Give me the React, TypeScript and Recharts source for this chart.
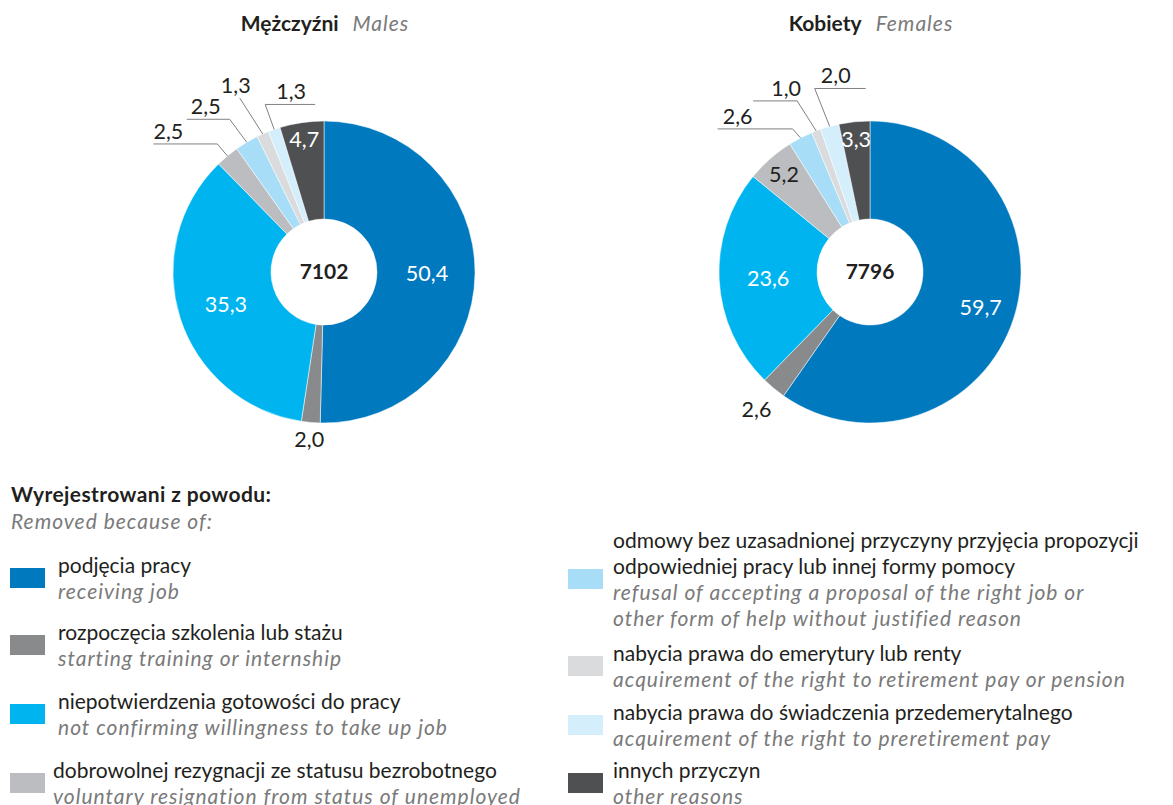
import React from 'react';
import { PieChart, Pie, Cell } from 'recharts';

const categoriesPl = [
  'podjęcia pracy',
  'rozpoczęcia szkolenia lub stażu',
  'niepotwierdzenia gotowości do pracy',
  'dobrowolnej rezygnacji ze statusu bezrobotnego',
  'odmowy bez uzasadnionej przyczyny przyjęcia propozycji odpowiedniej pracy lub innej formy pomocy',
  'nabycia prawa do emerytury lub renty',
  'nabycia prawa do świadczenia przedemerytalnego',
  'innych przyczyn',
];
const categoriesEn = [
  'receiving job',
  'starting training or internship',
  'not confirming willingness to take up job',
  'voluntary resignation from status of unemployed',
  'refusal of accepting a proposal of the right job or other form of help without justified reason',
  'acquirement of the right to retirement pay or pension',
  'acquirement of the right to preretirement pay',
  'other reasons',
];
const malesValues = [50.4, 2.0, 35.3, 2.5, 2.5, 1.3, 1.3, 4.7];
const femalesValues = [59.7, 2.6, 23.6, 5.2, 2.6, 1.0, 2.0, 3.3];
const malesTotal = 7102;
const femalesTotal = 7796;

const COLORS = ['#0079bf', '#898a8c', '#00b5ef', '#bcbdc0', '#a7ddf7', '#dadbdc', '#d4eefb', '#4f5052'];
const FONT = 'Lato, "Open Sans", sans-serif';
const TEXT = '#231f20';
const GREY_TEXT = '#7a7a7a';
const ITALIC = { fontStyle: 'italic' as const, color: GREY_TEXT, letterSpacing: 1 };

// label placement per slice (in = inside the ring, free = outside no line, lead = leader line)
type Place =
  | { kind: 'in'; r: number; dark?: boolean }
  | { kind: 'free'; r: number }
  | { kind: 'lead'; ex: number; ey: number; hx: number; lx: number };

const malesPlace: Place[] = [
  { kind: 'in', r: 103 },
  { kind: 'free', r: 168 },
  { kind: 'in', r: 103 },
  { kind: 'lead', ex: -10, ey: -12, hx: -64, lx: -49 },
  { kind: 'lead', ex: -17, ey: -23, hx: -43, lx: -24 },
  { kind: 'lead', ex: -23, ey: -36, hx: 0, lx: -4 },
  { kind: 'lead', ex: -9, ey: -25, hx: 50, lx: 26 },
  { kind: 'in', r: 134 },
];
const femalesPlace: Place[] = [
  { kind: 'in', r: 116 },
  { kind: 'free', r: 178 },
  { kind: 'in', r: 102 },
  { kind: 'in', r: 130, dark: true },
  { kind: 'lead', ex: -8, ey: -9, hx: -75, lx: -55 },
  { kind: 'lead', ex: -19, ey: -30, hx: -44, lx: -11 },
  { kind: 'lead', ex: -15, ey: -38, hx: 51, lx: 21 },
  { kind: 'in', r: 134 },
];

const fmt = (v: number) => v.toFixed(1).replace('.', ',');
const RAD = Math.PI / 180;

const makeLabel = (places: Place[], total: number) => (props: any) => {
  const { cx, cy, midAngle, outerRadius, index, value } = props;
  const p = places[index];
  const polar = (r: number) => ({
    x: cx + Math.cos(-midAngle * RAD) * r,
    y: cy + Math.sin(-midAngle * RAD) * r,
  });
  const common = { fontFamily: FONT, fontSize: 21.5, textAnchor: 'middle' as const };
  const center =
    index === 0 ? (
      <text x={cx} y={cy} dy={7} fill={TEXT} fontFamily={FONT} fontSize={21} fontWeight={700} textAnchor="middle">
        {total}
      </text>
    ) : null;
  if (p.kind === 'in' || p.kind === 'free') {
    const pt = polar(p.r);
    const fill = p.kind === 'in' && !p.dark ? '#fff' : TEXT;
    return (
      <g key={index}>
        <text x={pt.x} y={pt.y} dy={8} fill={fill} {...common}>
          {fmt(value)}
        </text>
        {center}
      </g>
    );
  }
  const o = polar(outerRadius);
  const ex = o.x + p.ex;
  const ey = o.y + p.ey;
  return (
    <g key={index}>
      <polyline
        points={`${o.x},${o.y} ${ex},${ey} ${ex + p.hx},${ey}`}
        fill="none"
        stroke="#808080"
        strokeWidth={1}
      />
      <text x={ex + p.lx} y={ey - 5} fill={TEXT} {...common}>
        {fmt(value)}
      </text>
    </g>
  );
};

const malesData = malesValues.map((v, i) => ({ name: categoriesPl[i], value: v }));
const femalesData = femalesValues.map((v, i) => ({ name: categoriesPl[i], value: v }));

function Title({ x, pl, en }: { x: number; pl: string; en: string }) {
  return (
    <div
      style={{
        position: 'absolute',
        left: x - 200,
        width: 400,
        top: 10,
        textAlign: 'center',
        fontFamily: FONT,
        fontSize: 21,
      }}
    >
      <span style={{ fontWeight: 700, color: TEXT }}>{pl}</span>
      <span style={{ fontStyle: 'italic', color: GREY_TEXT, marginLeft: 14, letterSpacing: 1 }}>{en}</span>
    </div>
  );
}

function LegendItem({ i, x, textX, top, pl, en }: { i: number; x: number; textX: number; top: number; pl: string[]; en: string[] }) {
  const h = (pl.length + en.length) * 26;
  return (
    <div style={{ position: 'absolute', left: 0, top, height: h, width: 600 }}>
      <div
        style={{
          position: 'absolute',
          left: x,
          top: h / 2 - 10,
          width: 35,
          height: 20,
          background: COLORS[i],
        }}
      />
      <div style={{ position: 'absolute', left: textX, top: 0, fontFamily: FONT, fontSize: 21, lineHeight: '26px', whiteSpace: 'nowrap' }}>
        {pl.map((l) => (
          <div key={l} style={{ color: TEXT }}>{l}</div>
        ))}
        {en.map((l) => (
          <div key={l} style={ITALIC}>{l}</div>
        ))}
      </div>
    </div>
  );
}

export default function App() {
  return (
    <div style={{ position: 'absolute', left: 0, top: 0, width: 1173, height: 805, background: '#fff', overflow: 'hidden' }}>
      <Title x={325} pl="Mężczyźni" en="Males" />
      <Title x={871} pl="Kobiety" en="Females" />
      <div style={{ position: 'absolute', left: 0, top: 0 }}>
        <PieChart width={1173} height={470} margin={{ top: 0, right: 0, bottom: 0, left: 0 }}>
          <Pie
            data={malesData}
            dataKey="value"
            cx={324}
            cy={272}
            innerRadius={53}
            outerRadius={151}
            startAngle={90}
            endAngle={-270}
            stroke="#fff"
            strokeWidth={0.5}
            label={makeLabel(malesPlace, malesTotal)}
            labelLine={false}
            isAnimationActive={false}
          >
            {malesData.map((d, i) => (
              <Cell key={d.name} fill={COLORS[i]} />
            ))}
          </Pie>
          <Pie
            data={femalesData}
            dataKey="value"
            cx={870}
            cy={272}
            innerRadius={53}
            outerRadius={151}
            startAngle={90}
            endAngle={-270}
            stroke="#fff"
            strokeWidth={0.5}
            label={makeLabel(femalesPlace, femalesTotal)}
            labelLine={false}
            isAnimationActive={false}
          >
            {femalesData.map((d, i) => (
              <Cell key={d.name} fill={COLORS[i]} />
            ))}
          </Pie>
        </PieChart>
      </div>

      <div style={{ position: 'absolute', left: 11, top: 480, fontFamily: FONT, fontSize: 21, lineHeight: '27px' }}>
        <div style={{ fontWeight: 700, color: TEXT, letterSpacing: 0.4 }}>Wyrejestrowani z powodu:</div>
        <div style={ITALIC}>Removed because of:</div>
      </div>

      <LegendItem i={0} x={10} textX={58} top={552} pl={[categoriesPl[0]]} en={[categoriesEn[0]]} />
      <LegendItem i={1} x={10} textX={58} top={619} pl={[categoriesPl[1]]} en={[categoriesEn[1]]} />
      <LegendItem i={2} x={10} textX={58} top={688} pl={[categoriesPl[2]]} en={[categoriesEn[2]]} />
      <LegendItem i={3} x={10} textX={53} top={757} pl={[categoriesPl[3]]} en={[categoriesEn[3]]} />

      <div style={{ position: 'absolute', left: 558, top: 0 }}>
        <LegendItem
          i={4}
          x={10}
          textX={55}
          top={527}
          pl={['odmowy bez uzasadnionej przyczyny przyjęcia propozycji', 'odpowiedniej pracy lub innej formy pomocy']}
          en={['refusal of accepting a proposal of the right job or', 'other form of help without justified reason']}
        />
        <LegendItem i={5} x={10} textX={55} top={640} pl={[categoriesPl[5]]} en={[categoriesEn[5]]} />
        <LegendItem i={6} x={10} textX={55} top={699} pl={[categoriesPl[6]]} en={[categoriesEn[6]]} />
        <LegendItem i={7} x={10} textX={55} top={757} pl={[categoriesPl[7]]} en={[categoriesEn[7]]} />
      </div>
    </div>
  );
}
